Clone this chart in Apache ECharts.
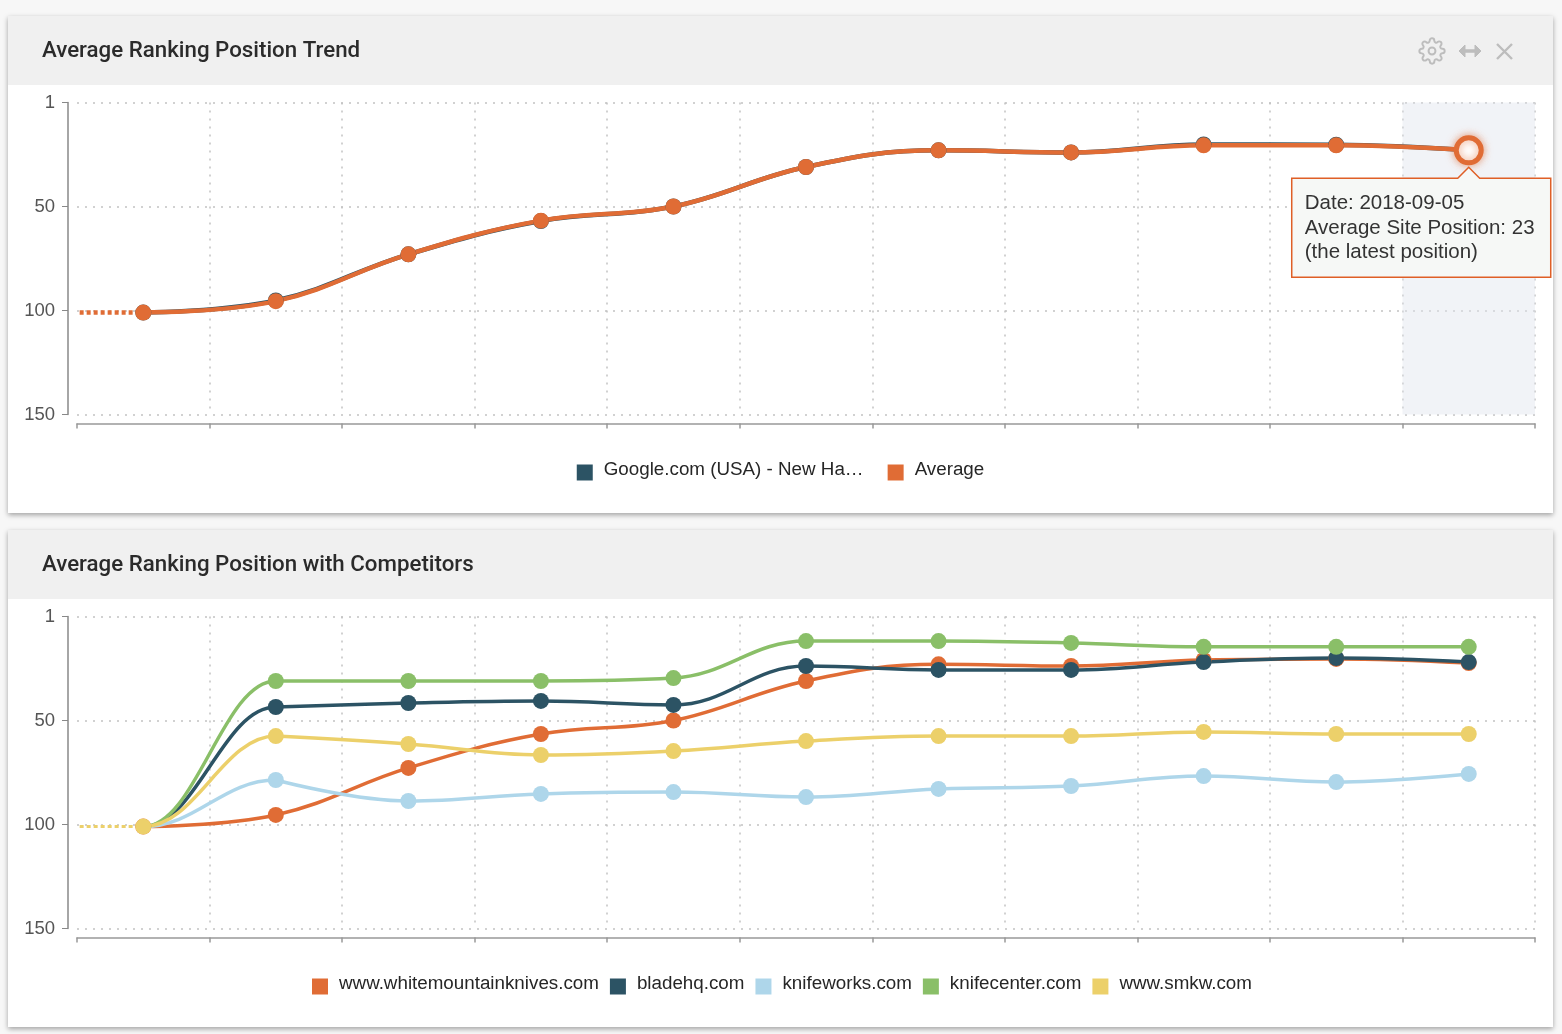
<!DOCTYPE html>
<html>
<head>
<meta charset="utf-8">
<title>Average Ranking Position</title>
<script src="https://cdn.jsdelivr.net/npm/echarts@6/dist/echarts.min.js"></script>
<style>
  html, body { margin: 0; padding: 0; background: #f7f7f7; }
  .card { position: absolute; left: 8px; width: 1545px; height: 497px; background: #fff; box-shadow: 0 2px 5px rgba(0,0,0,.35); }
  .head { position: absolute; left: 0; top: 0; width: 100%; height: 69px; background: #f0f0f0; }
  .chart { position: absolute; left: 0; top: 0; width: 1545px; height: 497px; }
  .icons { position: absolute; left: 1405px; top: 20px; }
</style>
</head>
<body>
<div class="card" style="top:16px">
  <div class="head"></div>
  <div class="chart" id="trend"></div>
  <svg class="icons" width="110" height="30" viewBox="0 0 110 30" fill="none" stroke="#bdbdbd">
    <g transform="translate(5.2 1.2) scale(1.15)" stroke-width="1.7">
      <circle cx="12" cy="12" r="3"/>
      <path d="M19.4 15a1.65 1.65 0 0 0 .33 1.82l.06.06a2 2 0 0 1 0 2.83 2 2 0 0 1-2.83 0l-.06-.06a1.65 1.65 0 0 0-1.82-.33 1.65 1.65 0 0 0-1 1.51V21a2 2 0 0 1-2 2 2 2 0 0 1-2-2v-.09A1.65 1.65 0 0 0 9 19.4a1.65 1.65 0 0 0-1.82.33l-.06.06a2 2 0 0 1-2.83 0 2 2 0 0 1 0-2.83l.06-.06a1.65 1.65 0 0 0 .33-1.82 1.65 1.65 0 0 0-1.51-1H3a2 2 0 0 1-2-2 2 2 0 0 1 2-2h.09A1.65 1.65 0 0 0 4.6 9a1.65 1.65 0 0 0-.33-1.82l-.06-.06a2 2 0 0 1 0-2.83 2 2 0 0 1 2.83 0l.06.06a1.65 1.65 0 0 0 1.82.33H9a1.65 1.65 0 0 0 1-1.51V3a2 2 0 0 1 2-2 2 2 0 0 1 2 2v.09a1.65 1.65 0 0 0 1 1.51 1.65 1.65 0 0 0 1.82-.33l.06-.06a2 2 0 0 1 2.83 0 2 2 0 0 1 0 2.83l-.06.06a1.65 1.65 0 0 0-.33 1.82V9a1.65 1.65 0 0 0 1.51 1H21a2 2 0 0 1 2 2 2 2 0 0 1-2 2h-.09a1.65 1.65 0 0 0-1.51 1z"/>
    </g>
    <path d="M47 15h20" stroke-width="3.5"/>
    <path d="M52 9l-6 6 6 6zM62 9l6 6-6 6z" fill="#bdbdbd" stroke-width="1"/>
    <path d="M84 8l15 15M99 8l-15 15" stroke-width="2.4"/>
  </svg>
</div>
<div class="card" style="top:530px">
  <div class="head"></div>
  <div class="chart" id="competitors"></div>
</div>
<script>
var categories = ['2018-06-27','2018-07-04','2018-07-11','2018-07-18','2018-07-25','2018-08-01','2018-08-08','2018-08-15','2018-08-22','2018-08-29','2018-09-05'];
var yTickValues = [0, 50, 100, 150];
var yTickLabels = ['1', '50', '100', '150'];

var googleValues = [101, 95.2, 73, 57, 50, 31, 23, 24, 20.2, 20.3, 23];
var averageValues = [101, 95.5, 73, 56.8, 50, 31, 23, 24, 20.6, 20.6, 23];
var latestBand = [null, null, null, null, null, null, null, null, null, null, 150];
var leadInX = [0.02, 0.48];
var leadInValue = 101;

var whitemountainValues = [101, 95.4, 72.8, 56.5, 50, 31, 23, 23.8, 20.9, 20.4, 22.4];
var bladehqValues = [101, 43.5, 41.6, 40.6, 42.5, 23.8, 25.7, 25.7, 21.9, 20, 21.9];
var knifeworksValues = [101, 78.6, 88.7, 85.3, 84.4, 86.8, 82.9, 81.5, 76.7, 79.6, 75.7];
var knifecenterValues = [101, 31, 31, 31, 29.6, 11.8, 11.8, 12.7, 14.6, 14.6, 14.6];
var smkwValues = [101, 57.5, 61.3, 66.6, 64.7, 59.9, 57.5, 57.5, 55.5, 56.5, 56.5];

var ORANGE = '#e06c35', NAVY = '#2c5364', BLUE = '#aed6ea', GREEN = '#8abf68', YELLOW = '#ecd06a';
var FONT = '"Liberation Sans", Arial, sans-serif';

function base_option(title, legendData, itemGap, legendLeft) {
  return {
    animation: false,
    title: {
      text: title, left: 29, top: 19,
      textStyle: { fontFamily: 'Roboto', fontWeight: 500, fontSize: 22.3, color: '#2b2b2b' }
    },
    legend: {
      data: legendData, top: 439, left: legendLeft, icon: 'rect',
      itemWidth: 16, itemHeight: 16, itemGap: itemGap,
      formatter: function (name) { return '{t|' + name + '}'; },
      textStyle: {
        padding: [0, 0, 0, 6],
        rich: { t: { fontFamily: FONT, fontSize: 18.8, color: '#262626', padding: [0, 0, 6, 0] } }
      }
    },
    grid: { left: 69, right: 18, top: 86.5, height: 312, containLabel: false },
    xAxis: [{
      type: 'category', data: categories, boundaryGap: true, position: 'bottom', offset: 9,
      axisLine: { onZero: false, lineStyle: { color: '#999', width: 1.5 } },
      axisTick: { show: true, length: 5, lineStyle: { color: '#999', width: 1.5 } },
      axisLabel: { show: false },
      splitLine: { show: true, showMinLine: false, lineStyle: { type: [2, 6], color: '#c2c2c2', width: 1.5 } }
    }, {
      // lead-in before the first point
      type: 'value', min: 0, max: categories.length, show: false, splitLine: { show: false }
    }],
    yAxis: {
      type: 'value', inverse: true, min: 0, max: 150, interval: 50, position: 'left', offset: 9,
      axisLine: { show: true, onZero: false, lineStyle: { color: '#888', width: 1.5 } },
      axisTick: { show: true, length: 6, lineStyle: { color: '#888' } },
      axisLabel: {
        margin: 13, fontFamily: FONT, fontSize: 18.5, color: '#555', padding: [6, 0, 0, 0],
        formatter: function (v) { return yTickLabels[yTickValues.indexOf(v)]; }
      },
      splitLine: { show: true, lineStyle: { type: [2, 6], color: '#c2c2c2', width: 1.5 } }
    }
  };
}

function line_series(name, values, color, width) {
  return {
    name: name, type: 'line', data: values, smooth: 0.4,
    symbol: 'circle', symbolSize: 16, showSymbol: true,
    lineStyle: { color: color, width: width },
    itemStyle: { color: color }
  };
}

function lead_in(color, width) {
  return {
    type: 'line', xAxisIndex: 1, symbol: 'none', silent: true,
    data: [[leadInX[0], leadInValue], [leadInX[1], leadInValue]],
    lineStyle: { color: color, width: width, type: [4, 3] }
  };
}

// the climb out of the first point is flat at both ends. ECharts only bends a segment
// between two neighbours, so pad it on both sides and fade the pads out with a gradient
function rise_series(values, color, width) {
  var hidden = color + '00';
  return {
    type: 'line', xAxisIndex: 1, symbol: 'none', silent: true, smooth: 0.4, smoothMonotone: 'x',
    data: [[-0.5, values[0]], [0.5, values[0]], [1.5, values[1]], [2.5, values[1]]],
    lineStyle: {
      width: width,
      color: new echarts.graphic.LinearGradient(0, 0, 1, 0, [
        { offset: 0, color: hidden }, { offset: 1 / 3, color: hidden },
        { offset: 1 / 3, color: color }, { offset: 2 / 3, color: color },
        { offset: 2 / 3, color: hidden }, { offset: 1, color: hidden }
      ])
    }
  };
}

function split_series(name, values, color, width) {
  return [rise_series(values, color, width), line_series(name, [null].concat(values.slice(1)), color, width)];
}

// top chart
var trendChart = echarts.init(document.getElementById('trend'));
var trendOption = base_option('Average Ranking Position Trend', ['Google.com (USA) - New Ha…', 'Average'], 24, 'center');
var averageData = averageValues.slice();
averageData[averageData.length - 1] = {
  value: averageValues[averageValues.length - 1], symbolSize: 25,
  itemStyle: { color: '#fff', borderColor: ORANGE, borderWidth: 5, shadowColor: 'rgba(224,108,53,.6)', shadowBlur: 8 }
};
trendOption.series = [
  { name: 'latest', type: 'bar', data: latestBand, barWidth: '100%', silent: true, itemStyle: { color: 'rgba(225,228,238,.45)' } },
  lead_in(ORANGE, 4.5),
  line_series('Google.com (USA) - New Ha…', googleValues, NAVY, 4.5),
  line_series('Average', averageData, ORANGE, 4.5)
];
trendChart.setOption(trendOption);

// callout under the latest point
var tip = trendChart.convertToPixel({ xAxisIndex: 0, yAxisIndex: 0 }, [categories.length - 1, averageValues[averageValues.length - 1]]);
var tipLeft = tip[0] - 177, tipRight = tip[0] + 82, tipTop = tip[1] + 28, tipBottom = tip[1] + 127;
trendChart.setOption({
  graphic: [{
    type: 'polygon', z: 100,
    shape: { points: [[tipLeft, tipTop], [tip[0] - 11, tipTop], [tip[0], tip[1] + 17], [tip[0] + 11, tipTop], [tipRight, tipTop], [tipRight, tipBottom], [tipLeft, tipBottom]] },
    style: { fill: '#f6f8f6', stroke: '#df5f26', lineWidth: 1.5 }
  }, {
    type: 'text', z: 101, x: tipLeft + 13, y: tipTop + 13,
    style: {
      text: 'Date: 2018-09-05\nAverage Site Position: 23\n(the latest position)',
      font: '20.5px ' + FONT, fill: '#333', lineHeight: 24.5
    }
  }]
});

// bottom chart
var compChart = echarts.init(document.getElementById('competitors'));
var compOption = base_option('Average Ranking Position with Competitors',
  ['www.whitemountainknives.com', 'bladehq.com', 'knifeworks.com', 'knifecenter.com', 'www.smkw.com'], 11, 299);
compOption.series = [lead_in(YELLOW, 3), line_series('www.whitemountainknives.com', whitemountainValues, ORANGE, 3.5)]
  .concat(split_series('bladehq.com', bladehqValues, NAVY, 3.5))
  .concat(split_series('knifeworks.com', knifeworksValues, BLUE, 3.5))
  .concat(split_series('knifecenter.com', knifecenterValues, GREEN, 3.5))
  .concat(split_series('www.smkw.com', smkwValues, YELLOW, 3.5))
  .concat([line_series('first point', smkwValues.slice(0, 1), YELLOW, 3.5)]);
compChart.setOption(compOption);
</script>
</body>
</html>
